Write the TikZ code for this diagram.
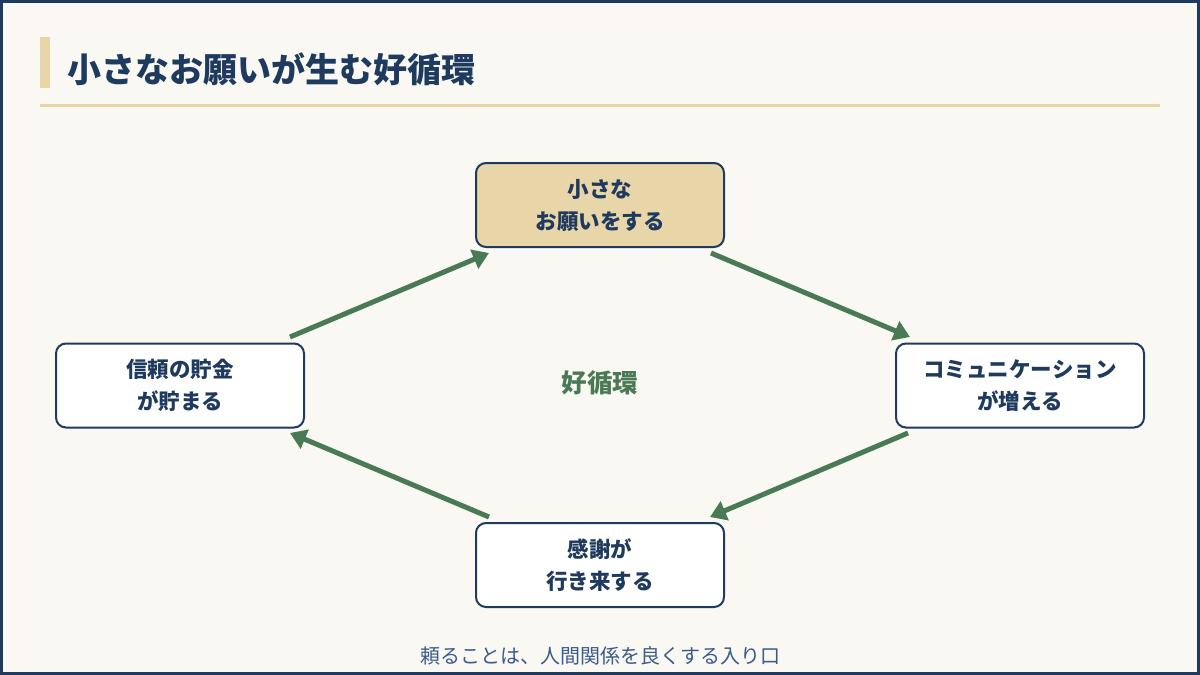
\documentclass[tikz,border=0pt]{standalone}
\usepackage{fontspec}
\newfontfamily\jpfont{Noto Sans CJK JP}
\usetikzlibrary{arrows.meta}
\definecolor{navy}{HTML}{1F3A5F}
\definecolor{gold}{HTML}{E8D5A8}
\definecolor{paper}{HTML}{FAF8F3}
\definecolor{leaf}{HTML}{4A7A55}
\definecolor{footblue}{HTML}{3A5A8A}
\tikzset{
  step box/.style={draw=navy, line width=2pt, rounded corners=10pt, fill=white,
    minimum width=248pt, minimum height=84pt, align=center, text=navy,
    font=\jpfont\bfseries\fontsize{21.5}{32}\selectfont},
  cycle arrow/.style={draw=leaf, line width=5pt, -{Triangle[length=16pt,width=20pt]}}
}
\begin{document}
\begin{tikzpicture}[x=1pt,y=-1pt]
\useasboundingbox (0,0) rectangle (1200,675);
% Background and frame
\fill[paper] (0,0) rectangle (1200,675);
\draw[navy, line width=3pt] (1.5,1.5) rectangle (1198.5,673.5);
% Title
\fill[gold] (40,37) rectangle (50,88);
\node[anchor=west, text=navy, font=\jpfont\bfseries\fontsize{34}{40}\selectfont] (title) at (64,69) {小さなお願いが生む好循環};
\draw[gold, line width=3pt] (40,105) -- (1160,105);
% Steps
\node[step box, fill=gold] (ask) at (600,205) {小さな\\お願いをする};
\node[step box] (talk) at (1020,385.5) {コミュニケーション\\が増える};
\node[step box] (thanks) at (600,565) {感謝が\\行き来する};
\node[step box] (trust) at (180,385.5) {信頼の貯金\\が貯まる};
% Centre label
\node[text=leaf, font=\jpfont\bfseries\fontsize{25.5}{28}\selectfont] (loop) at (600,383) {好循環};
% Arrow ends
\coordinate (a1) at (290,337); \coordinate (b1) at (489,253);
\coordinate (a2) at (711,253); \coordinate (b2) at (910,337);
\coordinate (a3) at (908,433); \coordinate (b3) at (710,517);
\coordinate (a4) at (489,517); \coordinate (b4) at (290,433);
\draw[cycle arrow] (a1) -- (b1);
\draw[cycle arrow] (a2) -- (b2);
\draw[cycle arrow] (a3) -- (b3);
\draw[cycle arrow] (a4) -- (b4);
% Footer
\node[text=footblue, font=\jpfont\fontsize{20}{24}\selectfont] (foot) at (600,656) {頼ることは、人間関係を良くする入り口};
\end{tikzpicture}
\end{document}
